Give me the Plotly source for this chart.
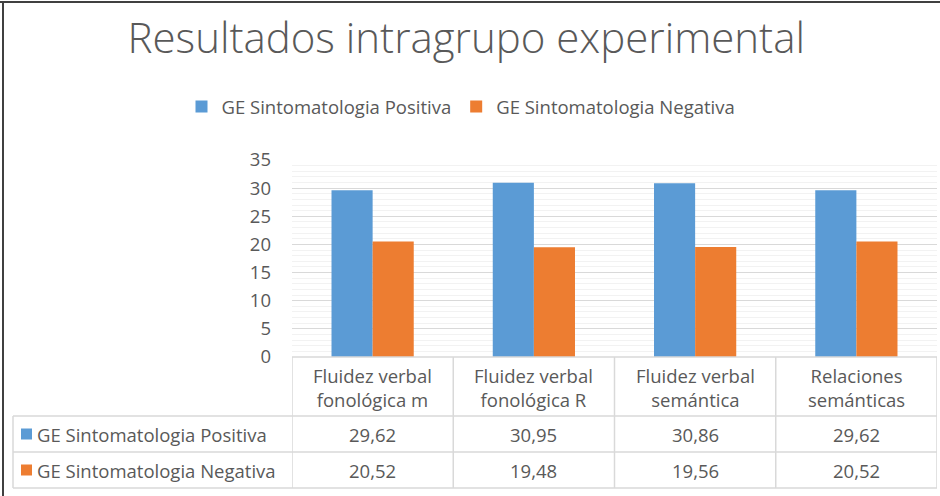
import plotly.graph_objects as go

categories = ["Fluidez verbal<br>fonológica m", "Fluidez verbal<br>fonológica R",
              "Fluidez verbal<br>semántica", "Relaciones<br>semánticas"]
series_names = ["GE Sintomatologia Positiva", "GE Sintomatologia Negativa"]
positiva = [29.62, 30.95, 30.86, 29.62]
negativa = [20.52, 19.48, 19.56, 20.52]
colors = ["#5b9bd5", "#ed7d31"]
y_ticks = [0, 5, 10, 15, 20, 25, 30, 35]

W, H = 940, 496
L, R_, T, B = 292, 937, 160, 357  # plot area pixel box
FONT = "Open Sans"
TXT = "#595959"
GRID = "#d9d9d9"
FS = 18.5


def px_x(px):
    return (px - L) / (R_ - L)


def px_y(py):
    return (B - py) / (B - T)


def fmt(v):
    return f"{v:.2f}".replace(".", ",")


fig = go.Figure()
xs = list(range(len(categories)))
for name, vals, c in zip(series_names, [positiva, negativa], colors):
    fig.add_trace(go.Bar(x=xs, y=vals, name=name, marker=dict(color=c, line=dict(width=0))))

shapes = []
annotations = []

# table geometry (pixels)
row_tops = [B, 416, 452, 488]
left_px = 13
line = dict(color=GRID, width=1.5)
shapes.append(dict(type="line", xref="paper", yref="paper", x0=px_x(L), x1=px_x(R_),
                   y0=px_y(B), y1=px_y(B), line=line))
for py in row_tops[1:]:
    shapes.append(dict(type="line", xref="paper", yref="paper", x0=px_x(left_px), x1=px_x(R_),
                       y0=px_y(py), y1=px_y(py), line=line))
for i in range(len(categories) + 1):
    shapes.append(dict(type="line", xref="x", yref="paper", x0=i - 0.5, x1=i - 0.5,
                       y0=px_y(B), y1=px_y(row_tops[-1]), line=line))
shapes.append(dict(type="line", xref="paper", yref="paper", x0=px_x(left_px), x1=px_x(left_px),
                   y0=px_y(row_tops[1]), y1=px_y(row_tops[-1]), line=line))

# header labels
for i, cat in enumerate(categories):
    annotations.append(dict(x=i, xref="x", y=px_y((row_tops[0] + row_tops[1]) / 2 + 1), yref="paper",
                            text=cat, showarrow=False, font=dict(family=FONT, size=FS, color=TXT),
                            xanchor="center", yanchor="middle"))
# rows
for r, (name, vals, c) in enumerate(zip(series_names, [positiva, negativa], colors)):
    yc = (row_tops[r + 1] + row_tops[r + 2]) / 2
    shapes.append(dict(type="rect", xref="paper", yref="paper", x0=px_x(21), x1=px_x(32),
                       y0=px_y(yc - 5.5), y1=px_y(yc + 5.5), fillcolor=c, line=dict(width=0)))
    annotations.append(dict(x=px_x(35), xref="paper", y=px_y(yc), yref="paper", text=name,
                            showarrow=False, xanchor="left", yanchor="middle",
                            font=dict(family=FONT, size=FS, color=TXT)))
    for i, v in enumerate(vals):
        annotations.append(dict(x=i, xref="x", y=px_y(yc), yref="paper", text=fmt(v),
                                showarrow=False, xanchor="center", yanchor="middle",
                                font=dict(family=FONT, size=FS, color=TXT)))

# outer frame (top and left)
shapes.append(dict(type="line", xref="paper", yref="paper", x0=px_x(0), x1=px_x(W),
                   y0=px_y(2), y1=px_y(2), line=dict(color="#404040", width=2)))
shapes.append(dict(type="line", xref="paper", yref="paper", x0=px_x(3), x1=px_x(3),
                   y0=px_y(2), y1=px_y(H), line=dict(color="#404040", width=2)))

fig.update_layout(
    width=W, height=H,
    margin=dict(l=L, r=W - R_, t=T, b=H - B, pad=0),
    paper_bgcolor="white", plot_bgcolor="white",
    barmode="group", bargap=0.49, bargroupgap=0,
    title=dict(text="Resultados intragrupo experimental", x=0.496, xanchor="center",
               y=1 - 38 / H, yanchor="middle",
               font=dict(family=FONT, size=42, color=TXT, weight=300)),
    legend=dict(orientation="h", x=px_x(461), xanchor="center", y=px_y(107), yanchor="middle",
                font=dict(family=FONT, size=FS, color=TXT), bgcolor="rgba(0,0,0,0)",
                traceorder="normal", itemwidth=30),
    xaxis=dict(range=[-0.5, len(categories) - 0.5], showticklabels=False, showgrid=False,
               zeroline=False, showline=False, ticks=""),
    yaxis=dict(range=[0, 35], tickvals=y_ticks, showgrid=True, gridcolor=GRID, gridwidth=1,
               zeroline=False, showline=False, ticks="", ticklabelstandoff=20,
               tickfont=dict(family=FONT, size=FS, color=TXT),
               minor=dict(dtick=1, showgrid=True, gridcolor="#f2f2f2", gridwidth=1)),
    shapes=shapes, annotations=annotations,
)

fig.write_html("out.html", config={"displayModeBar": False},
               post_script="document.body.style.margin='0';")
